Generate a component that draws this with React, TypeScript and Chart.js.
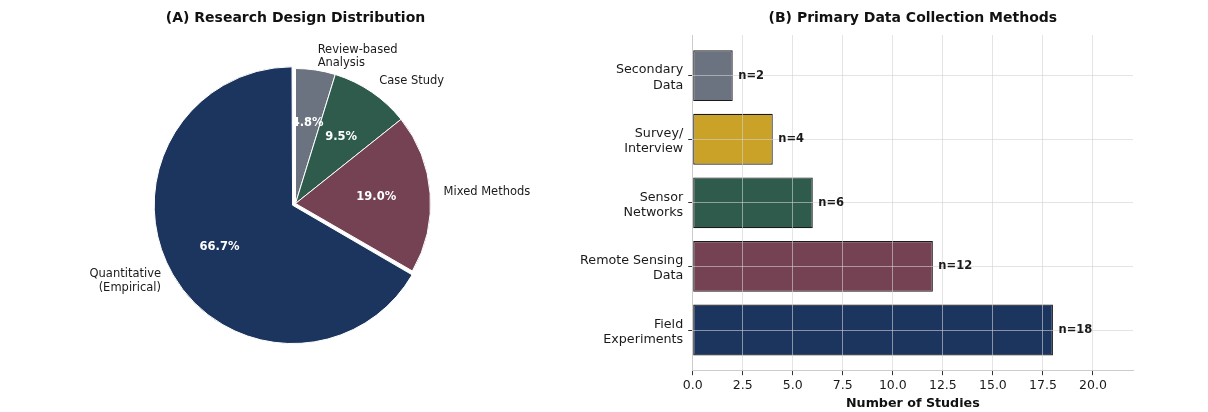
import React, { useEffect, useRef } from "react";
import { Chart, registerables } from "chart.js";

Chart.register(...registerables);

// ---------- Data ----------
// Pie (listed clockwise from the top, as Chart.js draws it)
const pieLabels = ["Review-based\nAnalysis", "Case Study", "Mixed Methods", "Quantitative\n(Empirical)"];
const pieValues = [1, 2, 4, 14];
const pieColors = ["#6b7280", "#2e5b4b", "#744253", "#1c355e"];
const pieOffsets = [0, 0, 0, 13.5];

// Bars (index 0 at the bottom)
const barCategories = [
  ["Field", "Experiments"],
  ["Remote Sensing", "Data"],
  ["Sensor", "Networks"],
  ["Survey/", "Interview"],
  ["Secondary", "Data"],
];
const barValues = [18, 12, 6, 4, 2];
const barColors = ["#1c355e", "#744253", "#2e5b4b", "#c9a227", "#6b7280"];

const pieTitle = "(A) Research Design Distribution";
const barTitle = "(B) Primary Data Collection Methods";
const xAxisTitle = "Number of Studies";

const FONT = "DejaVu Sans";
const TEXT = "#1a1a1a";
const GRID = "rgba(210,210,210,0.6)";

const BAR_LEFT = 560;

const piePlugin = {
  id: "pieText",
  afterDraw(chart: any) {
    const { ctx } = chart;
    const meta = chart.getDatasetMeta(0);
    const total = pieValues.reduce((a, b) => a + b, 0);
    meta.data.forEach((el: any, i: number) => {
      const { x, y, startAngle, endAngle, outerRadius, circumference } = el.getProps(
        ["x", "y", "startAngle", "endAngle", "outerRadius", "circumference"],
        true
      );
      const mid = (startAngle + endAngle) / 2;
      const off = (el.options.offset || 0) / 4;
      const fix = 1 - Math.sin(Math.min(Math.PI, circumference || 0));
      const shift = off * (1 + fix);
      const cx = x + Math.cos(mid) * shift;
      const cy = y + Math.sin(mid) * shift;
      ctx.save();
      // outside label
      const lx = cx + Math.cos(mid) * outerRadius * 1.1;
      const ly = cy + Math.sin(mid) * outerRadius * 1.1;
      ctx.font = `11.5px "${FONT}"`;
      ctx.fillStyle = TEXT;
      ctx.textAlign = lx >= cx ? "left" : "right";
      ctx.textBaseline = "middle";
      const lines = pieLabels[i].split("\n");
      const lh = 13.3;
      lines.forEach((ln, k) => ctx.fillText(ln, lx, ly + (k - (lines.length - 1) / 2) * lh));
      // percentage
      const px = cx + Math.cos(mid) * outerRadius * 0.6;
      const py = cy + Math.sin(mid) * outerRadius * 0.6;
      ctx.font = `bold 11.5px "${FONT}"`;
      ctx.fillStyle = "#ffffff";
      ctx.textAlign = "center";
      ctx.fillText(`${((pieValues[i] / total) * 100).toFixed(1)}%`, px, py);
      ctx.restore();
    });
  },
};

const barLabelPlugin = {
  id: "barText",
  afterDraw(chart: any) {
    const { ctx, chartArea } = chart;
    const meta = chart.getDatasetMeta(0);
    ctx.save();
    ctx.font = `bold 11.5px "${FONT}"`;
    ctx.fillStyle = TEXT;
    ctx.textAlign = "left";
    ctx.textBaseline = "middle";
    meta.data.forEach((bar: any, i: number) => {
      const { x, y } = bar.getProps(["x", "y"], true);
      ctx.fillText(`n=${barValues[i]}`, x + 5.5, y);
    });
    // panel title, centred over the plot area
    ctx.font = `bold 14px "${FONT}"`;
    ctx.fillStyle = "#111111";
    ctx.textAlign = "center";
    ctx.fillText(barTitle, (chartArea.left + chartArea.right) / 2, 18.4);
    ctx.restore();
  },
};

function PieChart() {
  const ref = useRef<HTMLCanvasElement>(null);
  useEffect(() => {
    const chart = new Chart(ref.current!, {
      type: "pie",
      data: {
        labels: pieLabels,
        datasets: [
          {
            data: pieValues,
            backgroundColor: pieColors,
            borderColor: "#ffffff",
            borderWidth: 1,
            offset: pieOffsets,
            hoverOffset: 0,
          } as any,
        ],
      },
      options: {
        responsive: false,
        animation: false,
        radius: 135,
        layout: { padding: { left: 31, right: 0, top: 0, bottom: 31.8 } },
        plugins: {
          legend: { display: false },
          tooltip: { enabled: false },
          title: {
            display: true,
            text: pieTitle,
            color: "#111111",
            font: { family: FONT, size: 14, weight: "bold" },
            padding: { top: 10, bottom: 0 },
          },
        },
      } as any,
      plugins: [piePlugin],
    });
    return () => chart.destroy();
  }, []);
  return <canvas ref={ref} width={BAR_LEFT} height={412} style={{ position: "absolute", left: 0, top: 0 }} />;
}

function BarChart() {
  const ref = useRef<HTMLCanvasElement>(null);
  useEffect(() => {
    const chart = new Chart(ref.current!, {
      type: "bar",
      data: {
        datasets: [
          {
            data: barValues.map((v, i) => ({ x: v, y: i })),
            backgroundColor: barColors,
            borderColor: "#1a1a1a",
            borderWidth: 1.2,
            borderSkipped: false,
            barPercentage: 1,
            categoryPercentage: 0.8,
          } as any,
        ],
      },
      options: {
        responsive: false,
        animation: false,
        indexAxis: "y",
        layout: { padding: { left: 0, right: 75, top: 35, bottom: 0 } },
        plugins: {
          legend: { display: false },
          tooltip: { enabled: false },
          title: { display: false },
        },
        scales: {
          x: {
            type: "linear",
            position: "bottom",
            min: 0,
            max: 22,
            offset: false,
            afterFit: (s: any) => {
              s.height = 41.3;
            },
            ticks: {
              stepSize: 2.5,
              includeBounds: false,
              callback: (v: any) => Number(v).toFixed(1),
              font: { family: FONT, size: 12.5 },
              color: TEXT,
              padding: 3,
              maxRotation: 0,
            },
            grid: { offset: false, color: GRID, lineWidth: 1, z: 1, tickColor: "#333333", tickLength: 4.5, tickWidth: 1 },
            border: { color: "#cccccc", width: 1, z: 2 },
            title: {
              display: true,
              text: xAxisTitle,
              color: "#111111",
              font: { family: FONT, size: 12.7, weight: "bold" },
              padding: { top: 2, bottom: 1 },
            },
          },
          y: {
            type: "linear",
            position: "left",
            min: -0.64,
            max: 4.64,
            offset: false,
            afterFit: (s: any) => {
              s.width = 692.7 - BAR_LEFT;
            },
            afterBuildTicks: (s: any) => {
              s.ticks = barCategories.map((_, i) => ({ value: i }));
            },
            ticks: {
              callback: (v: any) => barCategories[Math.round(Number(v))] || "",
              font: { family: FONT, size: 12.7, lineHeight: 1.2 },
              color: TEXT,
              padding: 5,
              labelOffset: 2,
            },
            grid: { offset: false, color: GRID, lineWidth: 1, z: 1, tickColor: "#333333", tickLength: 4.5, tickWidth: 1 },
            border: { color: "#cccccc", width: 1, z: 2 },
          },
        },
      } as any,
      plugins: [barLabelPlugin],
    });
    return () => chart.destroy();
  }, []);
  return (
    <canvas ref={ref} width={1208 - BAR_LEFT} height={412} style={{ position: "absolute", left: BAR_LEFT, top: 0 }} />
  );
}

export default function App() {
  return (
    <div style={{ position: "absolute", left: 0, top: 0, width: 1208, height: 412, background: "#ffffff" }}>
      <PieChart />
      <BarChart />
    </div>
  );
}
